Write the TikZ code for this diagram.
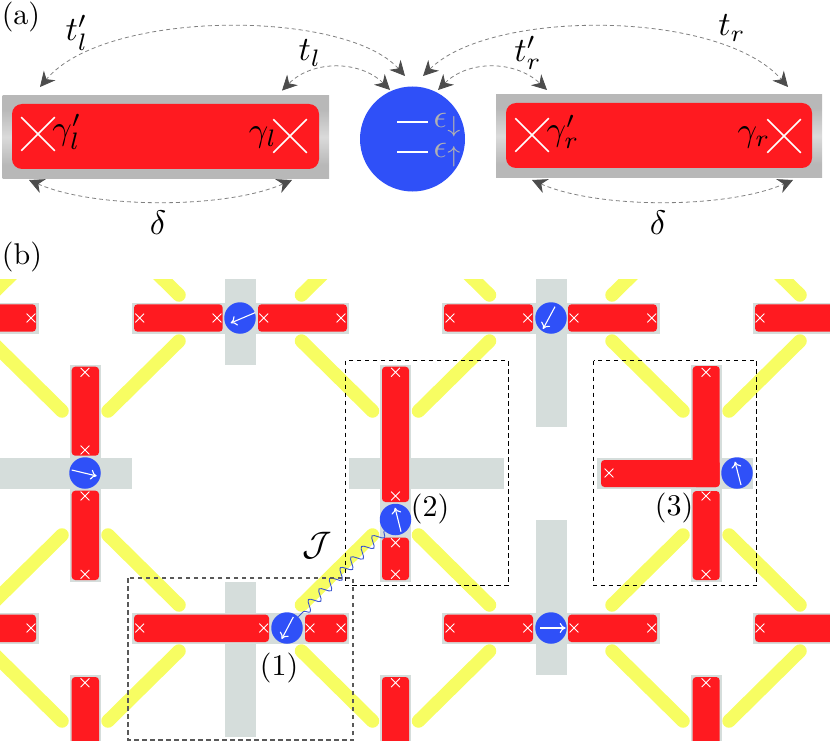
\documentclass[tikz,border=0pt]{standalone}
\usepackage{amsmath, amssymb}
\usetikzlibrary{arrows.meta, shapes.misc, decorations.pathmorphing}
\definecolor{wirered}{HTML}{FF1A20}
\definecolor{dotblue}{HTML}{2F50F8}
\definecolor{gatefill}{HTML}{D5DDDB}
\definecolor{linkyellow}{HTML}{F7FD62}
\definecolor{shellgray}{HTML}{B8B8B8}
\definecolor{shelllight}{HTML}{DADADA}
\definecolor{wavyblue}{HTML}{3A55D0}
\pgfdeclareverticalshading{shellshade}{100bp}{color(0bp)=(shellgray); color(33bp)=(shellgray); color(50bp)=(shelllight); color(67bp)=(shellgray); color(100bp)=(shellgray)}
\tikzset{
    txt/.style={inner sep=0pt, scale=3},
    bigtxt/.style={inner sep=0pt, scale=3.4},
    hop/.style={draw=black!50, dash pattern=on 4pt off 3pt, line width=0.8pt, {Stealth[length=15pt,width=15pt,color=black!70]}-{Stealth[length=15pt,width=15pt,color=black!70]}},
    bigcross/.style={cross out, draw=white, line width=1.5pt, inner sep=0pt, minimum size=32pt},
    xmark/.style={cross out, draw=white, line width=0.8pt, inner sep=0pt, minimum size=8pt},
    wirebox/.style={fill=wirered, rounded corners=3.5pt},
    spindot/.style={circle, fill=dotblue, inner sep=0pt, minimum size=31.5pt},
    spin/.style={white, line width=1.1pt, -{To[length=6pt,width=10pt]}},
    link/.style={linkyellow, line width=13.5pt, line cap=round},
    groupbox/.style={black, line width=0.9pt, dash pattern=on 4.5pt off 3.5pt},
}
\begin{document}
\begin{tikzpicture}[x=1pt, y=-1pt]
    \useasboundingbox (0,0) rectangle (830,741);

    \shade[shading=shellshade] (2.7,96) rectangle (329,178);
    \fill[wirered, rounded corners=10pt] (12,104) rectangle (319,169);
    \shade[shading=shellshade] (496,95) rectangle (822,177);
    \fill[wirered, rounded corners=10pt] (506,103) rectangle (812,168);
    \node[circle, fill=dotblue, inner sep=0pt, minimum size=105pt] (qdot) at (412.5,139) {};
    \draw[white, line width=1.5pt] (397,122) -- (428,122);
    \draw[white, line width=1.5pt] (397,152) -- (428,152);
    \node[inner sep=0pt, black!30, scale=3.3] (edown) at (448,125) {$\epsilon_\downarrow$};
    \node[inner sep=0pt, black!30, scale=3.3] (eup) at (448,155) {$\epsilon_\uparrow$};

    \foreach \name/\x/\y in {gl1/38/134, gl2/290/136, gr1/532/135, gr2/784/136}
        \node[bigcross] (\name) at (\x,\y) {};

    \node[bigtxt] (gamlp) at (67,132) {$\gamma_l'$};
    \node[bigtxt] (gaml) at (263,137) {$\gamma_l$};
    \node[bigtxt] (gamrp) at (563,132) {$\gamma_r'$};
    \node[bigtxt] (gamr) at (754,137) {$\gamma_r$};

    \coordinate (tlpa) at (405,76);
    \coordinate (tlpb) at (40,87);
    \coordinate (tla) at (390,90);
    \coordinate (tlb) at (282,90.6);
    \coordinate (tra) at (423,76);
    \coordinate (trb) at (788,87);
    \coordinate (trpa) at (438,90);
    \coordinate (trpb) at (547,90);
    \coordinate (dla) at (29,180);
    \coordinate (dlb) at (292,180);
    \coordinate (dra) at (532,180);
    \coordinate (drb) at (793,180);
    \draw[hop] (tlpa) .. controls (345,9) and (105,9) .. (tlpb);
    \draw[hop] (tla) .. controls (360,60) and (312,60) .. (tlb);
    \draw[hop] (tra) .. controls (490,9) and (720,9) .. (trb);
    \draw[hop] (trpa) .. controls (468,60) and (515,60) .. (trpb);
    \draw[hop] (dla) .. controls (95,209) and (226,209) .. (dlb);
    \draw[hop] (dra) .. controls (598,209) and (727,209) .. (drb);

    \node[bigtxt] (tlp) at (77,33) {$t_l'$};
    \node[bigtxt] (tl) at (310,53) {$t_l$};
    \node[bigtxt] (trp) at (528,53) {$t_r'$};
    \node[bigtxt] (tr) at (732,28) {$t_r$};
    \node[bigtxt] (dell) at (158,223) {$\delta$};
    \node[bigtxt] (delr) at (658,223) {$\delta$};
    \node[txt] (la) at (21,17) {(a)};
    \node[txt] (lb) at (22,257) {(b)};

    \begin{scope}
        \clip (0,279) rectangle (830,741);
        \foreach \xv in {85,395.5,706}
            \foreach \yv in {163,473,783} {
                \draw[link] (\xv+23,\yv-62) -- (\xv+94,\yv-132);
                \draw[link] (\xv-23,\yv-62) -- (\xv-94,\yv-132);
                \draw[link] (\xv+23,\yv+62) -- (\xv+94,\yv+132);
                \draw[link] (\xv-23,\yv+62) -- (\xv-94,\yv+132);
            }
        \foreach \xa/\ya/\xb/\yb in {
                -5/302.5/39/333.7, 132/302.5/349/333.7, 442/302.5/660/333.7, 753/302.5/835/333.7,
                -5/613/39/644.3, 132/613/349/644.3, 442/613/660/644.3, 753/613/835/644.3,
                225/279/256/365, 535.5/279/566.5/427, 535.5/520/566.5/675, 225/582/256/737,
                70/365/101/582, 380/365/411/582, 690.5/365/721.5/582,
                70/675/101/745, 380/675/411/745, 690.5/675/721.5/745,
                0/457.5/132/489, 349/457.5/504/489, 597/457.5/752.7/489}
            \fill[gatefill] (\xa,\ya) rectangle (\xb,\yb);
        \foreach \xa/\ya/\xb/\yb in {
                -9/304.3/36/331.7, 134/304.3/222.7/331.7, 258/304.3/347/331.7,
                444/304.3/533/331.7, 568/304.3/657/331.7, 755/304.3/839/331.7,
                -9/614.6/36/642, 134/614.6/269/642, 305/614.6/347/642,
                444/614.6/533/642, 568/614.6/657/642, 755/614.6/839/642,
                71.7/366.7/99/455.7, 71.7/490.7/99/580, 71.7/677/99/750,
                382/366.7/409/502, 382/537.7/409/580, 382/677/409/750,
                692.7/366/719.7/487, 601/460/719.7/487, 692.7/491/719.7/580, 692.7/677/719.7/750}
            \fill[wirebox] (\xa,\ya) rectangle (\xb,\yb);
        \foreach \x/\y [count=\i] in {
                31/318, 139.7/318, 217/318, 263.7/318, 341/318,
                450/318, 527.7/318, 574/318, 651.7/318, 760/318,
                31/628, 139.7/628, 263.7/628, 310/628, 341/628,
                450/628, 527.7/628, 574/628, 651.7/628, 760/628,
                85/372.3, 85/450, 85/496, 85/574.3, 85/682.7,
                395.5/372.3, 395.5/496, 395.5/542.7, 395.5/574.3, 395.5/682.7,
                706/372.3, 609/473, 706/496, 706/574.3, 706/682.7}
            \node[xmark] (x\i) at (\x,\y) {};
    \end{scope}

    \foreach \name/\xd/\yd/\xs/\ys/\xe/\ye in {
            sa/240/318/255/312.7/230.7/323,
            sb/551/318/555/306.7/543/329,
            sc/85/473/71.7/470/96.7/476,
            sd/551/628/540/628/565.7/628,
            one/287/628/293.3/617/281.7/639,
            two/395.5/519.5/401/531.7/395/507.7,
            three/737/473/741/485/735/461.7} {
        \node[spindot] (\name) at (\xd,\yd) {};
        \draw[spin] (\xs,\ys) -- (\xe,\ye);
    }
    \draw[wavyblue, line width=0.9pt, decorate, decoration={snake, segment length=15pt, amplitude=5pt}] (two) -- (one);

    \draw[groupbox, black!65, line width=1.2pt] (128,578) rectangle (353,740);
    \draw[groupbox] (345,360.7) rectangle (508,585.7);
    \draw[groupbox] (593.7,360.5) rectangle (756.7,585.7);

    \node[txt] (lone) at (279,668) {(1)};
    \node[txt] (ltwo) at (430,509) {(2)};
    \node[txt] (lthree) at (674,508) {(3)};
    \node[bigtxt] (jay) at (317,546) {$\mathcal{J}$};
\end{tikzpicture}
\end{document}
